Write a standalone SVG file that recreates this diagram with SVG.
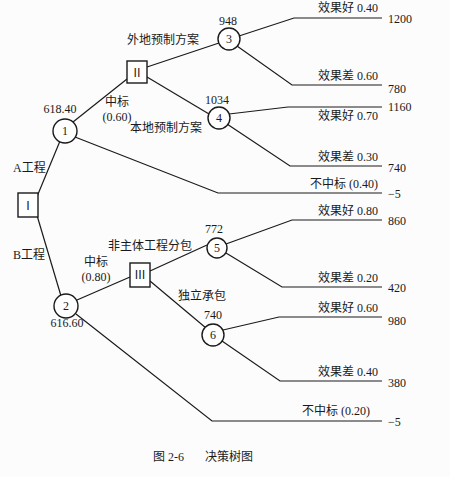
<svg xmlns="http://www.w3.org/2000/svg" width="450" height="477" viewBox="0 0 450 477">
<style>
.l{stroke:#1a1a1a;stroke-width:1.2;fill:none}
.c{stroke:#1a1a1a;stroke-width:1.4;fill:#fff}
text{font-family:"Liberation Serif","Noto Sans CJK SC",serif;font-size:12px;fill:#1a1a1a}
.m{text-anchor:middle}
.e{text-anchor:end}
</style>
<rect width="450" height="477" fill="#fcfcfc"/>
<g id="connectors">
<polyline class="l" points="36,199 60,141"/>
<polyline class="l" points="36,212 61,296"/>
<polyline class="l" points="73,122 127,79"/>
<polyline class="l" points="147,67 219,43"/>
<polyline class="l" points="147,77 209,114"/>
<polyline class="l" points="239,36 294,18 382,18"/>
<polyline class="l" points="237,46 292,85 382,85"/>
<polyline class="l" points="229,114 288,107 382,107"/>
<polyline class="l" points="227,124 290,166 382,166"/>
<polyline class="l" points="75,137 218,193 382,193"/>
<polyline class="l" points="77,300 130,277"/>
<polyline class="l" points="150,271 207,245"/>
<polyline class="l" points="150,281 206,328"/>
<polyline class="l" points="226,244 292,220 382,220"/>
<polyline class="l" points="226,253 282,287 382,287"/>
<polyline class="l" points="223,330 279,317 382,317"/>
<polyline class="l" points="222,341 280,381 382,381"/>
<polyline class="l" points="76,314 212,421 382,421"/>
</g>
<g id="nodeI"><rect class="c" x="18" y="193" width="20" height="24"/><text class="m" x="28" y="210">Ⅰ</text></g>
<g id="node1"><circle class="c" cx="65" cy="131" r="12"/><text class="m" x="65" y="135">1</text><text class="m" x="60" y="113">618.40</text></g>
<g id="nodeII"><rect class="c" x="127" y="61" width="20" height="22"/><text class="m" x="137" y="77">Ⅱ</text></g>
<g id="node3"><circle class="c" cx="229" cy="39" r="11"/><text class="m" x="229" y="43">3</text><text class="m" x="228" y="25">948</text></g>
<g id="node4"><circle class="c" cx="219" cy="118" r="11"/><text class="m" x="219" y="122">4</text><text class="m" x="217" y="104">1034</text></g>
<g id="node2"><circle class="c" cx="66" cy="306" r="12"/><text class="m" x="66" y="310">2</text><text class="m" x="67" y="327">616.60</text></g>
<g id="nodeIII"><rect class="c" x="130" y="263" width="20" height="24"/><text class="m" x="140" y="279">Ⅲ</text></g>
<g id="node5"><circle class="c" cx="217" cy="248" r="10"/><text class="m" x="217" y="252">5</text><text class="m" x="214" y="233">772</text></g>
<g id="node6"><circle class="c" cx="213" cy="335" r="11"/><text class="m" x="213" y="339">6</text><text class="m" x="213" y="319">740</text></g>
<g id="labels">
<text x="13" y="172">A工程</text>
<text x="13" y="259">B工程</text>
<text x="127" y="44">外地预制方案</text>
<text x="130" y="132">本地预制方案</text>
<text class="m" x="117" y="106">中标</text>
<text class="m" x="117" y="121">(0.60)</text>
<text class="m" x="96" y="266">中标</text>
<text class="m" x="96" y="281">(0.80)</text>
<text x="108" y="250">非主体工程分包</text>
<text x="178" y="300">独立承包</text>
<text class="e" x="378" y="12">效果好 0.40</text>
<text x="388" y="23">1200</text>
<text class="e" x="378" y="80">效果差 0.60</text>
<text x="388" y="93">780</text>
<text class="e" x="378" y="120">效果好 0.70</text>
<text x="388" y="111">1160</text>
<text class="e" x="378" y="161">效果差 0.30</text>
<text x="388" y="172">740</text>
<text class="e" x="378" y="188">不中标 (0.40)</text>
<text x="388" y="198">−5</text>
<text class="e" x="378" y="215">效果好 0.80</text>
<text x="388" y="225">860</text>
<text class="e" x="378" y="282">效果差 0.20</text>
<text x="388" y="292">420</text>
<text class="e" x="378" y="312">效果好 0.60</text>
<text x="388" y="325">980</text>
<text class="e" x="378" y="376">效果差 0.40</text>
<text x="388" y="387">380</text>
<text class="e" x="370" y="415">不中标 (0.20)</text>
<text x="388" y="426">−5</text>
<text x="153" y="461" font-size="13">图 2-6</text>
<text x="205" y="461" font-size="13">决策树图</text>
</g>
</svg>
